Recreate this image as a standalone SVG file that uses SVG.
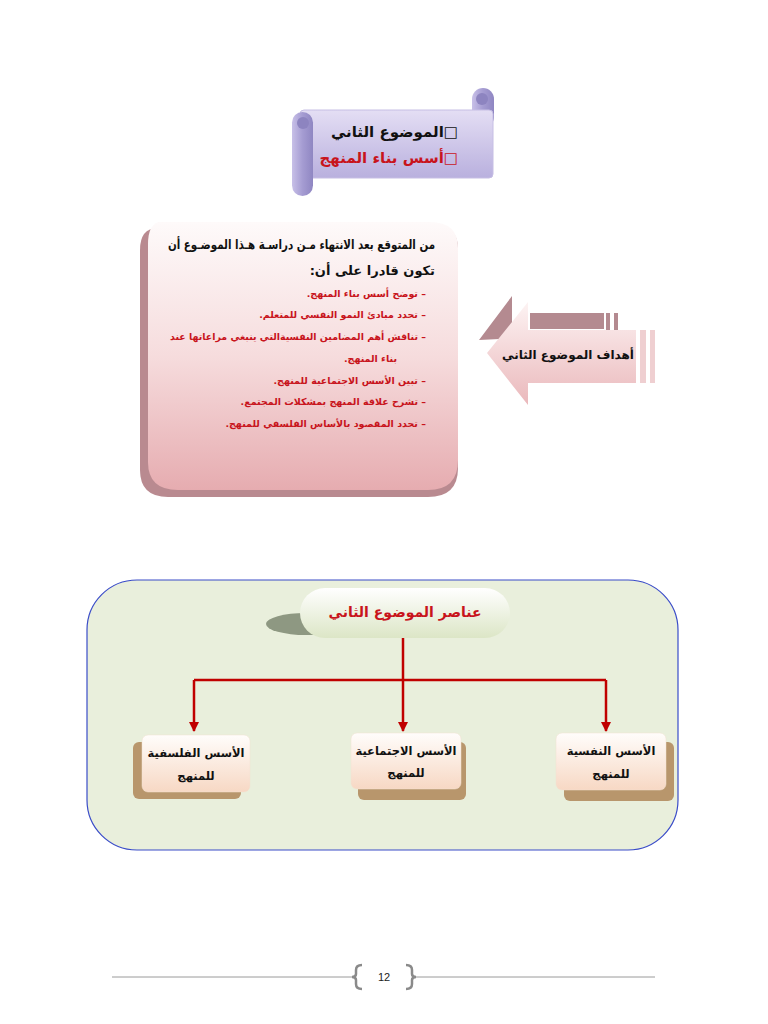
<svg xmlns="http://www.w3.org/2000/svg" width="768" height="1024" viewBox="0 0 768 1024">
<style>
.ar{font-family:"DejaVu Sans",sans-serif;font-weight:bold;direction:rtl}
.blk{fill:#111}
.red{fill:#c8141c}
.conn{stroke:#c00000;stroke-width:2.5;fill:none}
.bshadow{fill:#b8966c}
.box{fill:url(#gBox);stroke:#f0e0d0;stroke-width:0.5}
</style>
<defs>
<linearGradient id="gScroll" x1="0" y1="0" x2="0" y2="1"><stop offset="0" stop-color="#e4def4"/><stop offset="1" stop-color="#b9b0de"/></linearGradient>
<linearGradient id="gCurl" x1="0" y1="0" x2="1" y2="0"><stop offset="0" stop-color="#c8c0e8"/><stop offset="0.5" stop-color="#a59cd2"/><stop offset="1" stop-color="#8f86c2"/></linearGradient>
<linearGradient id="gPink" x1="0" y1="0" x2="0" y2="1"><stop offset="0" stop-color="#fefafa"/><stop offset="0.5" stop-color="#f6dcdd"/><stop offset="1" stop-color="#e6acb0"/></linearGradient>
<linearGradient id="gArrow" x1="0" y1="0" x2="0" y2="1"><stop offset="0" stop-color="#fdf3f3"/><stop offset="1" stop-color="#eab8bb"/></linearGradient>
<linearGradient id="gPill" x1="0" y1="0" x2="0" y2="1"><stop offset="0" stop-color="#ffffff"/><stop offset="1" stop-color="#dce6c6"/></linearGradient>
<linearGradient id="gBox" x1="0" y1="0" x2="0" y2="1"><stop offset="0" stop-color="#fffdfb"/><stop offset="1" stop-color="#f7d8c4"/></linearGradient>
<marker id="ah" viewBox="0 0 10 10" refX="9" refY="5" markerWidth="4" markerHeight="4" orient="auto"><path d="M0,0 L10,5 L0,10 z" fill="#c00000"/></marker>
</defs>

<g id="scroll">
  <rect x="472" y="88" width="22" height="40" rx="11" fill="url(#gCurl)"/>
  <rect x="300" y="110" width="193" height="68" rx="4" fill="url(#gScroll)" stroke="#c6bee4" stroke-width="1"/>
  <rect x="292" y="112" width="21" height="84" rx="10.5" fill="url(#gCurl)"/>
  <circle cx="303" cy="123" r="6" fill="#8d84c0"/>
  <circle cx="482" cy="99" r="6" fill="#8d84c0"/>
  <text class="ar blk" x="458" y="137" font-size="15" text-anchor="start">□الموضوع الثاني</text>
  <text class="ar red" x="458" y="163" font-size="15" text-anchor="start">□أسس بناء المنهج</text>
</g>

<g id="goals-box">
  <path d="M140,250 Q140,228 158,228 L438,228 Q458,228 458,248 L458,468 Q458,497 428,497 L168,497 Q140,497 140,470 Z" fill="#b98a90"/>
  <path d="M158,222 L430,222 Q458,222 458,248 L458,460 Q458,490 428,490 L178,490 Q148,490 148,462 L148,244 Q148,226 158,222 Z" fill="url(#gPink)"/>
  <text class="ar blk" x="435" y="249" font-size="13" text-anchor="start" textLength="267" lengthAdjust="spacingAndGlyphs">من المتوقع بعد الانتهاء مـن دراسـة هـذا الموضـوع أن</text>
  <text class="ar blk" x="435" y="275" font-size="13" text-anchor="start">تكون قادرا على أن:</text>
  <g class="ar red" font-size="9.5" font-weight="normal">
    <text x="426" y="297" text-anchor="start">– توضح أسس بناء المنهج.</text>
    <text x="426" y="318" text-anchor="start">– تحدد مبادئ النمو النفسي للمتعلم.</text>
    <text x="426" y="340" text-anchor="start" textLength="256" lengthAdjust="spacingAndGlyphs">– تناقش أهم المضامين النفسيةالتي ينبغي مراعاتها عند</text>
    <text x="397" y="362" text-anchor="start">بناء المنهج.</text>
    <text x="426" y="384" text-anchor="start">– تبين الأسس الاجتماعية للمنهج.</text>
    <text x="426" y="405" text-anchor="start">– تشرح علاقة المنهج بمشكلات المجتمع.</text>
    <text x="426" y="427" text-anchor="start">– تحدد المقصود بالأساس الفلسفي للمنهج.</text>
  </g>
</g>

<g id="goals-arrow">
  <polygon points="479,340 512,296 512,322 520,322 520,338" fill="#b48a90"/>
  <rect x="530" y="313" width="74" height="16" fill="#b48a90"/>
  <rect x="606" y="313" width="4" height="20" fill="#b48a90"/>
  <rect x="614" y="313" width="4" height="20" fill="#b48a90"/>
  <polygon points="487,353 528,302 528,330 636,330 636,383 528,383 528,405" fill="url(#gArrow)"/>
  <rect x="640" y="330" width="6" height="53" fill="#efcfd1"/>
  <rect x="650" y="330" width="5" height="53" fill="#efcfd1"/>
  <text class="ar blk" x="568" y="359" font-size="12" text-anchor="middle">أهداف الموضوع الثاني</text>
</g>

<g id="panel">
  <rect x="87" y="580" width="591" height="270" rx="50" fill="#e9efdc" stroke="#3a4cc8" stroke-width="1.2"/>
</g>

<g id="title-pill">
  <ellipse cx="306" cy="624" rx="40" ry="11" fill="#8e9882"/>
  <rect x="300" y="588" width="210" height="50" rx="25" fill="url(#gPill)"/>
  <text class="ar red" x="405" y="617" font-size="14" text-anchor="middle">عناصر الموضوع الثاني</text>
</g>

<g id="connectors">
  <path class="conn" d="M403,638 L403,680"/>
  <path class="conn" d="M194,680 L606,680"/>
  <path class="conn" d="M194,680 L194,731" marker-end="url(#ah)"/>
  <path class="conn" d="M403,680 L403,731" marker-end="url(#ah)"/>
  <path class="conn" d="M606,680 L606,731" marker-end="url(#ah)"/>
</g>

<g id="node-philosophical">
  <rect class="bshadow" x="133" y="742" width="108" height="57" rx="6"/>
  <rect class="box" x="142" y="735" width="108" height="57" rx="6"/>
  <text class="ar blk" x="196" y="757" font-size="11.5" text-anchor="middle">الأسس الفلسفية</text>
  <text class="ar blk" x="196" y="780" font-size="11.5" text-anchor="middle">للمنهج</text>
</g>

<g id="node-social">
  <rect class="bshadow" x="358" y="742" width="108" height="58" rx="6"/>
  <rect class="box" x="351" y="733" width="110" height="56" rx="6"/>
  <text class="ar blk" x="406" y="755" font-size="11.5" text-anchor="middle">الأسس الاجتماعية</text>
  <text class="ar blk" x="406" y="777" font-size="11.5" text-anchor="middle">للمنهج</text>
</g>

<g id="node-psychological">
  <rect class="bshadow" x="564" y="742" width="110" height="59" rx="6"/>
  <rect class="box" x="556" y="733" width="110" height="57" rx="6"/>
  <text class="ar blk" x="611" y="755" font-size="11.5" text-anchor="middle">الأسس النفسية</text>
  <text class="ar blk" x="611" y="778" font-size="11.5" text-anchor="middle">للمنهج</text>
</g>

<g id="footer">
  <line x1="112" y1="977" x2="355" y2="977" stroke="#9a9a9a" stroke-width="1"/>
  <line x1="413" y1="977" x2="655" y2="977" stroke="#9a9a9a" stroke-width="1"/>
  <path d="M362,965 Q356,965 356,970 L356,974 Q356,977 352,977 Q356,977 356,980 L356,984 Q356,989 362,989" fill="none" stroke="#8a8a8a" stroke-width="2.5"/>
  <path d="M406,965 Q412,965 412,970 L412,974 Q412,977 416,977 Q412,977 412,980 L412,984 Q412,989 406,989" fill="none" stroke="#8a8a8a" stroke-width="2.5"/>
  <text x="384" y="981" font-family="Liberation Sans, sans-serif" font-size="11" text-anchor="middle" fill="#222">12</text>
</g>
</svg>
